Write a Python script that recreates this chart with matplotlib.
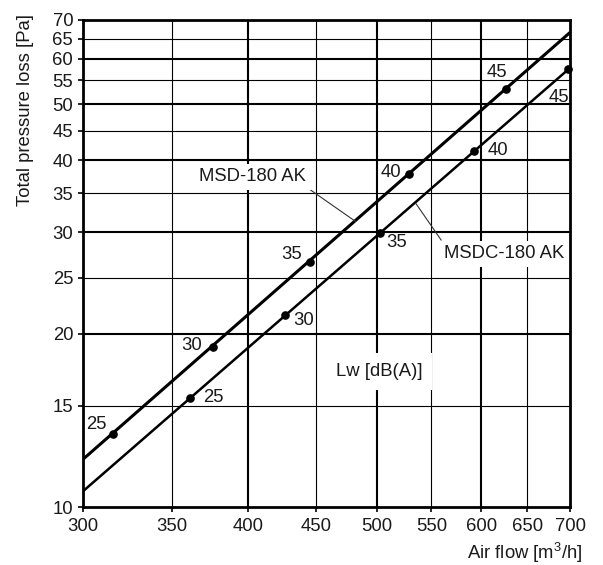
import matplotlib
matplotlib.use('Agg')
import matplotlib.pyplot as plt
from matplotlib.ticker import FixedLocator, NullLocator, FixedFormatter

plt.rcParams['font.family'] = ['Liberation Sans', 'DejaVu Sans']
plt.rcParams['mathtext.fontset'] = 'custom'
plt.rcParams['mathtext.rm'] = 'Liberation Sans'
plt.rcParams['mathtext.it'] = 'Liberation Sans'

# ---- data ----
x_ticks = [300, 350, 400, 450, 500, 550, 600, 650, 700]
y_ticks = [10, 15, 20, 25, 30, 35, 40, 45, 50, 55, 60, 65, 70]
x_heavy = [400, 500, 600]
y_heavy = [20, 30, 40, 50, 60]

msd_line_x = [300, 700]
msd_line_y = [12.1, 66.6]
msdc_line_x = [300, 700]
msdc_line_y = [10.65, 57.8]

lw_levels = [25, 30, 35, 40, 45]
msd_flow = [316, 376, 445, 529, 626]
msd_loss = [13.4, 18.95, 26.6, 37.8, 53.1]
msdc_flow = [361.5, 426.6, 502.7, 592, 698]
msdc_loss = [15.46, 21.5, 29.9, 41.5, 57.5]

msd_label = "MSD-180 AK"
msdc_label = "MSDC-180 AK"
lw_label = "Lw [dB(A)]"
x_label = "Air flow [m$^3$/h]"
y_label = "Total pressure loss [Pa]"

FS = 13.3

# ---- figure ----
fig = plt.figure(figsize=(6.03, 5.65), dpi=100)
ax = fig.add_axes([83/603, 58/565, 487/603, 487/565])
ax.set_xscale('log')
ax.set_yscale('log')
ax.set_xlim(300, 700)
ax.set_ylim(10, 70)

ax.xaxis.set_major_locator(FixedLocator(x_ticks))
ax.xaxis.set_minor_locator(NullLocator())
ax.xaxis.set_major_formatter(FixedFormatter([str(v) for v in x_ticks]))
ax.yaxis.set_major_locator(FixedLocator(y_ticks))
ax.yaxis.set_minor_locator(NullLocator())
ax.yaxis.set_major_formatter(FixedFormatter([str(v) for v in y_ticks]))
ax.tick_params(direction='out', length=3.6, width=1.2, labelsize=FS, color='black',
               labelcolor='#1a1a1a')
ax.tick_params(axis='x', pad=4.5)
ax.tick_params(axis='y', pad=3.5)

for s in ax.spines.values():
    s.set_linewidth(2.0)
    s.set_zorder(5)

for v in x_ticks[1:-1]:
    ax.axvline(v, color='black', lw=1.5 if v in x_heavy else 0.8, zorder=1)
for v in y_ticks[1:-1]:
    ax.axhline(v, color='black', lw=1.5 if v in y_heavy else 0.8, zorder=1)

ax.plot(msd_line_x, msd_line_y, color='black', lw=2.2, zorder=3, solid_capstyle='butt')
ax.plot(msdc_line_x, msdc_line_y, color='black', lw=1.8, zorder=3, solid_capstyle='butt')
ax.plot(msd_flow, msd_loss, 'o', color='black', ms=5.2, zorder=4, clip_on=False)
ax.plot(msdc_flow, msdc_loss, 'o', color='black', ms=5.2, zorder=4, clip_on=False)

msd_offsets = [(-16, 9), (-21, 2), (-18, 8), (-18, 2), (-9, 17)]
msdc_offsets = [(23, 0), (18, -5), (17, -10), (24, 0), (-9, -28)]
for lv, fx, fy, off in zip(lw_levels, msd_flow, msd_loss, msd_offsets):
    ax.annotate(str(lv), (fx, fy), xytext=off, textcoords='offset pixels',
                ha='center', va='center', fontsize=FS, color='#1a1a1a', zorder=6)
for lv, fx, fy, off in zip(lw_levels, msdc_flow, msdc_loss, msdc_offsets):
    ax.annotate(str(lv), (fx, fy), xytext=off, textcoords='offset pixels',
                ha='center', va='center', fontsize=FS, color='#1a1a1a', zorder=6)

box = dict(boxstyle='square,pad=0.25', fc='white', ec='none')
ax.plot([443.3, 482], [35.8, 31.3], color='#333333', lw=0.8, zorder=3)
ax.text(403, 37.4, msd_label, ha='center', va='center', fontsize=FS, color='#1a1a1a',
        bbox=box, zorder=6)
ax.plot([559.4, 535.5], [29.06, 33.6], color='#333333', lw=0.8, zorder=3)
ax.text(624.6, 27.5, msdc_label, ha='center', va='center', fontsize=FS, color='#1a1a1a',
        bbox=box, zorder=6)
ax.text(502, 17.2, lw_label, ha='center', va='center', fontsize=FS, color='#1a1a1a',
        bbox=dict(boxstyle='square,pad=0.55', fc='white', ec='none'), zorder=6)

ax.text(-0.119, 0.815, y_label, transform=ax.transAxes, rotation=90,
        ha='center', va='center', fontsize=FS, color='#1a1a1a')
ax.text(1.026, -0.095, x_label, transform=ax.transAxes,
        ha='right', va='center', fontsize=FS, color='#1a1a1a')

fig.savefig('out.png', dpi=100)
